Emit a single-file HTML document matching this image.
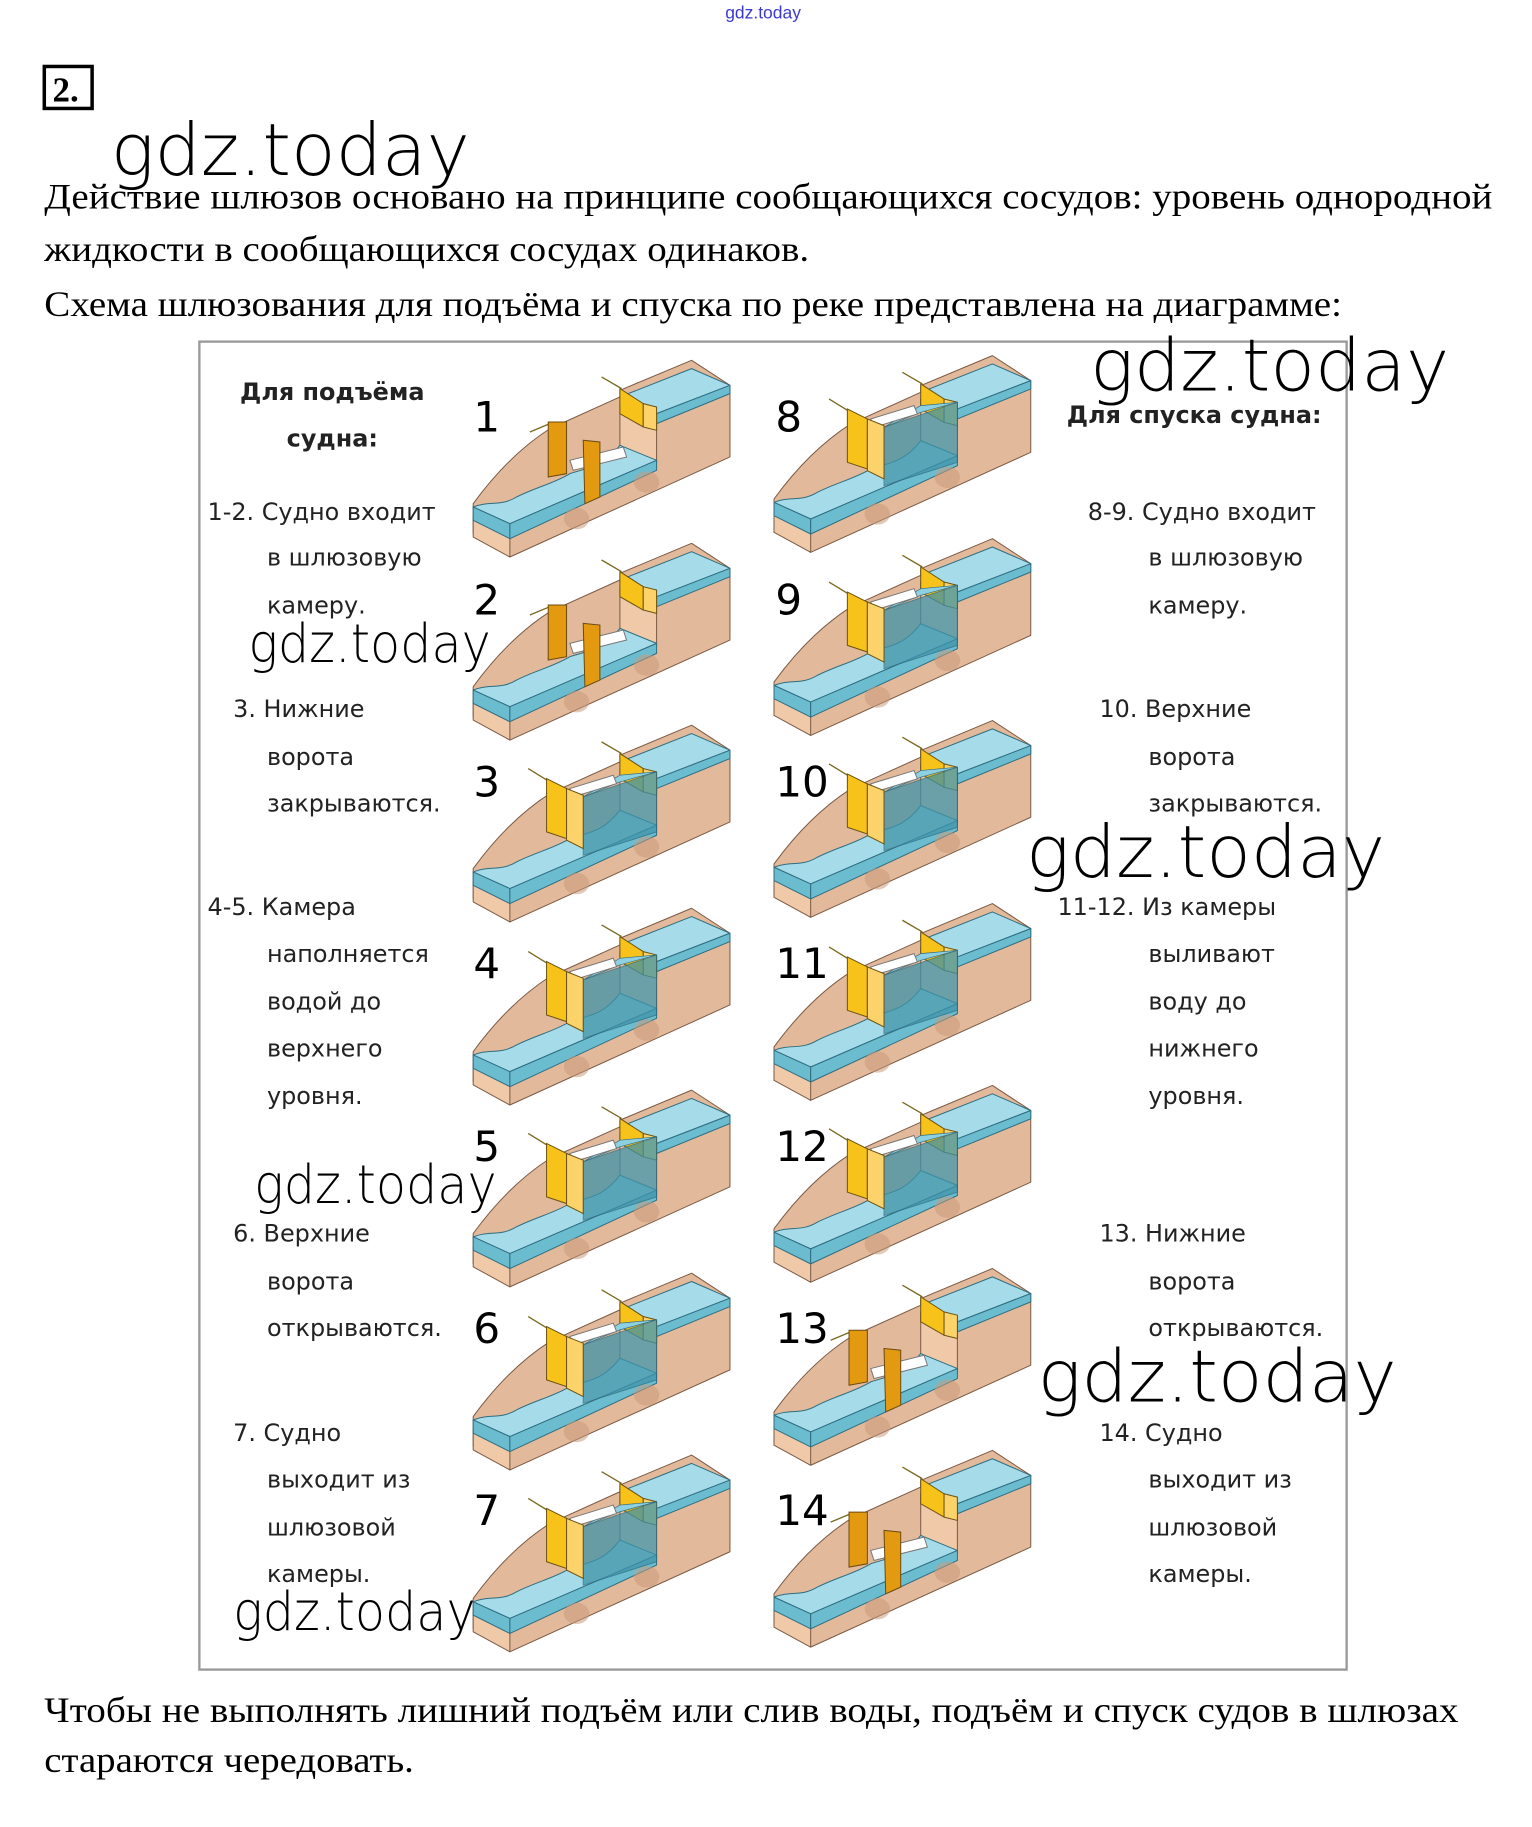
<!DOCTYPE html>
<html><head><meta charset="utf-8"><style>
html,body{margin:0;padding:0;background:#fff;}
svg{display:block;}
.t{font-family:"DejaVu Sans","Liberation Sans",sans-serif;font-size:20.5px;fill:#222;}
.n{font-family:"DejaVu Sans","Liberation Sans",sans-serif;font-size:36px;fill:#000;}
.w{font-family:"DejaVu Sans","Liberation Sans",sans-serif;font-weight:200;fill:#000;}
.s{font-family:"Liberation Serif",serif;font-size:31px;fill:#000;}
</style></head><body>
<svg width="1532" height="1827" viewBox="0 0 1314 1567" xmlns="http://www.w3.org/2000/svg">
<defs>
<g id="base" stroke-linejoin="round">
<path d="M10,520 L10,430 C90,320 170,250 240,205 L450,110 L450,90 L665,0 L780,75 L780,290 L120,590 Z" fill="#e2b99a" stroke="#7a5a45" stroke-width="3"/>
<path d="M10,470 L120,530 L120,590 L10,530 Z" fill="#f0c9a8" stroke="#7a5a45" stroke-width="3"/>
<path d="M450,130 L560,190 L560,310 L450,255 Z" fill="#f0c9a8" stroke="#7a5a45" stroke-width="3"/>
<path d="M10,440 C60,420 90,440 140,410 C200,380 250,370 300,340 C360,320 400,320 450,255 L560,300 L120,490 Z" fill="#a6dcea" stroke="#2f6d80" stroke-width="3"/>
<path d="M10,440 L120,490 L120,535 L10,480 Z" fill="#6cbcd0" stroke="#2f6d80" stroke-width="3"/>
<path d="M120,490 L560,300 L560,330 L120,535 Z" fill="#6cbcd0" stroke="#2f6d80" stroke-width="3"/>
<path d="M450,110 L560,160 L780,75 L665,25 Z" fill="#a6dcea" stroke="#2f6d80" stroke-width="3"/>
<path d="M560,160 L780,75 L780,100 L560,190 Z" fill="#6cbcd0" stroke="#2f6d80" stroke-width="3"/>
<line x1="395" y1="50" x2="455" y2="85" stroke="#7a6a20" stroke-width="4"/>
<path d="M450,85 L520,130 L520,200 L450,160 Z" fill="#f7c21a" stroke="#6b5210" stroke-width="3"/>
<path d="M520,130 L560,140 L560,210 L520,200 Z" fill="#fbd36a" stroke="#6b5210" stroke-width="3"/>
<ellipse cx="320" cy="475" rx="38" ry="32" fill="#c89a7c" opacity="0.55"/>
<ellipse cx="530" cy="365" rx="38" ry="32" fill="#c89a7c" opacity="0.55"/>
</g>
<g id="gA">
<path d="M300,300 L460,260 L470,290 L310,330 Z" fill="#fff" stroke="#777" stroke-width="3"/>
<line x1="180" y1="215" x2="240" y2="190" stroke="#7a6a20" stroke-width="4"/>
<path d="M235,185 L290,185 L290,340 L235,350 Z" fill="#e39a10" stroke="#6b4a10" stroke-width="3"/>
<path d="M340,240 L390,245 L390,410 L345,430 Z" fill="#e39a10" stroke="#6b4a10" stroke-width="3"/>
</g>
<g id="gB">
<path d="M340,215 L560,140 L560,320 L340,390 Z" fill="#3f93a8" opacity="0.75" stroke="#2f6d80" stroke-width="3"/>
<path d="M340,215 L450,170 L560,140 L450,150 Z" fill="#8fd0e0" stroke="#2f6d80" stroke-width="2"/>
<path d="M300,190 L430,150 L440,175 L310,215 Z" fill="#fff" stroke="#777" stroke-width="3"/>
<line x1="175" y1="130" x2="240" y2="170" stroke="#7a6a20" stroke-width="4"/>
<path d="M230,160 L290,190 L290,340 L230,320 Z" fill="#f7c21a" stroke="#6b5210" stroke-width="3"/>
<path d="M290,190 L340,210 L340,370 L290,345 Z" fill="#fbd36a" stroke="#6b5210" stroke-width="3"/>
</g>
<g id="lockA"><use href="#base"/><use href="#gA"/></g>
<g id="lockB"><use href="#base"/><use href="#gB"/></g>
</defs>

<text x="622" y="16" font-family="Liberation Sans,sans-serif" font-size="15" fill="#3a3ad0">gdz.today</text>
<rect x="38" y="57" width="41" height="36" fill="none" stroke="#000" stroke-width="3"/>
<text x="45" y="87" font-family="Liberation Serif,serif" font-size="30" font-weight="bold">2.</text>

<text class="s" x="38" y="179" textLength="1242" lengthAdjust="spacingAndGlyphs">Действие шлюзов основано на принципе сообщающихся сосудов: уровень однородной</text>
<text class="s" x="38" y="224" textLength="656" lengthAdjust="spacingAndGlyphs">жидкости в сообщающихся сосудах одинаков.</text>
<text class="s" x="38" y="271" textLength="1113" lengthAdjust="spacingAndGlyphs">Схема шлюзования для подъёма и спуска по реке представлена на диаграмме:</text>

<rect x="171" y="293" width="984" height="1139" fill="none" stroke="#999" stroke-width="2"/>

<g transform="translate(403,309) scale(0.286)"><use href="#lockA"/></g>
<g transform="translate(403,466) scale(0.286)"><use href="#lockA"/></g>
<g transform="translate(403,622) scale(0.286)"><use href="#lockB"/></g>
<g transform="translate(403,779) scale(0.286)"><use href="#lockB"/></g>
<g transform="translate(403,935) scale(0.286)"><use href="#lockB"/></g>
<g transform="translate(403,1092) scale(0.286)"><use href="#lockB"/></g>
<g transform="translate(403,1248) scale(0.286)"><use href="#lockB"/></g>
<g transform="translate(661,305) scale(0.286)"><use href="#lockB"/></g>
<g transform="translate(661,462) scale(0.286)"><use href="#lockB"/></g>
<g transform="translate(661,618) scale(0.286)"><use href="#lockB"/></g>
<g transform="translate(661,775) scale(0.286)"><use href="#lockB"/></g>
<g transform="translate(661,931) scale(0.286)"><use href="#lockB"/></g>
<g transform="translate(661,1088) scale(0.286)"><use href="#lockA"/></g>
<g transform="translate(661,1244) scale(0.286)"><use href="#lockA"/></g>

<g class="n">
<text x="406" y="370">1</text><text x="406" y="527">2</text><text x="406" y="683">3</text><text x="406" y="839">4</text>
<text x="406" y="996">5</text><text x="406" y="1152">6</text><text x="406" y="1308">7</text>
<text x="665" y="370">8</text><text x="665" y="527">9</text><text x="665" y="683">10</text><text x="665" y="839">11</text>
<text x="665" y="996">12</text><text x="665" y="1152">13</text><text x="665" y="1308">14</text>
</g>

<g class="t">
<text x="285" y="343" text-anchor="middle" font-weight="bold">Для подъёма</text>
<text x="285" y="383" text-anchor="middle" font-weight="bold">судна:</text>
<text x="178" y="446">1-2. Судно входит</text><text x="229" y="485">в шлюзовую</text><text x="229" y="526">камеру.</text>
<text x="200" y="615">3. Нижние</text><text x="229" y="656">ворота</text><text x="229" y="696">закрываются.</text>
<text x="178" y="785">4-5. Камера</text><text x="229" y="825">наполняется</text><text x="229" y="866">водой до</text><text x="229" y="906">верхнего</text><text x="229" y="947">уровня.</text>
<text x="200" y="1065">6. Верхние</text><text x="229" y="1106">ворота</text><text x="229" y="1146">открываются.</text>
<text x="200" y="1236">7. Судно</text><text x="229" y="1276">выходит из</text><text x="229" y="1317">шлюзовой</text><text x="229" y="1357">камеры.</text>

<text x="915" y="363" font-weight="bold">Для спуска судна:</text>
<text x="933" y="446">8-9. Судно входит</text><text x="985" y="485">в шлюзовую</text><text x="985" y="526">камеру.</text>
<text x="943" y="615">10. Верхние</text><text x="985" y="656">ворота</text><text x="985" y="696">закрываются.</text>
<text x="907" y="785">11-12. Из камеры</text><text x="985" y="825">выливают</text><text x="985" y="866">воду до</text><text x="985" y="906">нижнего</text><text x="985" y="947">уровня.</text>
<text x="943" y="1065">13. Нижние</text><text x="985" y="1106">ворота</text><text x="985" y="1146">открываются.</text>
<text x="943" y="1236">14. Судно</text><text x="985" y="1276">выходит из</text><text x="985" y="1317">шлюзовой</text><text x="985" y="1357">камеры.</text>
</g>

<g class="w">
<text x="95" y="150" font-size="62" textLength="308" lengthAdjust="spacingAndGlyphs">gdz.today</text>
<text x="935" y="335" font-size="62" textLength="308" lengthAdjust="spacingAndGlyphs">gdz.today</text>
<text x="213" y="568" font-size="46" textLength="208" lengthAdjust="spacingAndGlyphs">gdz.today</text>
<text x="880" y="752" font-size="62" textLength="308" lengthAdjust="spacingAndGlyphs">gdz.today</text>
<text x="218" y="1032" font-size="46" textLength="208" lengthAdjust="spacingAndGlyphs">gdz.today</text>
<text x="890" y="1202" font-size="62" textLength="308" lengthAdjust="spacingAndGlyphs">gdz.today</text>
<text x="200" y="1398" font-size="46" textLength="208" lengthAdjust="spacingAndGlyphs">gdz.today</text>
</g>

<text class="s" x="38" y="1477" textLength="1213" lengthAdjust="spacingAndGlyphs">Чтобы не выполнять лишний подъём или слив воды, подъём и спуск судов в шлюзах</text>
<text class="s" x="38" y="1520" textLength="317" lengthAdjust="spacingAndGlyphs">стараются чередовать.</text>
</svg>
</body></html>
